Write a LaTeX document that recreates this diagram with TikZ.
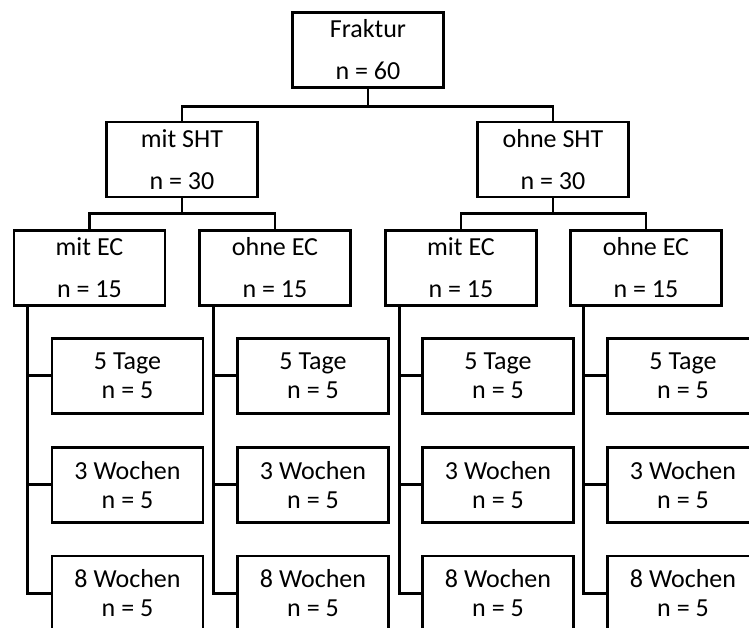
\documentclass[tikz,border=0pt]{standalone}
\usepackage{fontspec}
\setmainfont{Carlito}
\usetikzlibrary{positioning}

\begin{document}
\begin{tikzpicture}
[x=1pt,y=-1pt,line width=2.8pt,
 box/.style={draw,rectangle,align=center,inner sep=0pt,minimum width=151pt,minimum height=75pt,font=\fontsize{26}{42}\selectfont},
 leaf/.style={box,font=\fontsize{26}{29}\selectfont}]
\useasboundingbox (0,0) rectangle (749,628);
\clip (0,0) rectangle (749,628);

% nodes 1
\node [box] (F) at (368,50) {Fraktur\\n = 60};

% nodes 2
\node [box] (S1) at (182,159.5) {mit SHT\\n = 30};
\node [box] (S2) at (553,159.5) {ohne SHT\\n = 30};

% nodes 3
\node [box] (E1) at (89.5,268) {mit EC\\n = 15};
\node [box] (E2) at (275,268) {ohne EC\\n = 15};
\node [box] (E3) at (461,268) {mit EC\\n = 15};
\node [box] (E4) at (646,268) {ohne EC\\n = 15};

% nodes 4
\node [leaf, below right=30pt and 38pt of E1.south west] (T1) {5 Tage\\n = 5};
\node [leaf, below=31pt of T1] (W1) {3 Wochen\\n = 5};
\node [leaf, below=31pt of W1] (V1) {8 Wochen\\n = 5};

\node [leaf, below right=30pt and 38pt of E2.south west] (T2) {5 Tage\\n = 5};
\node [leaf, below=31pt of T2] (W2) {3 Wochen\\n = 5};
\node [leaf, below=31pt of W2] (V2) {8 Wochen\\n = 5};

\node [leaf, below right=30pt and 37pt of E3.south west] (T3) {5 Tage\\n = 5};
\node [leaf, below=31pt of T3] (W3) {3 Wochen\\n = 5};
\node [leaf, below=31pt of W3] (V3) {8 Wochen\\n = 5};

\node [leaf, below right=30pt and 37pt of E4.south west] (T4) {5 Tage\\n = 5};
\node [leaf, below=31pt of T4] (W4) {3 Wochen\\n = 5};
\node [leaf, below=31pt of W4] (V4) {8 Wochen\\n = 5};

% arrows 1
\coordinate [below=18pt of F.south] (j1);
\draw (F) -- (j1);
\draw (S1.north) |- (j1) -| (S2.north);

% arrows 2
\coordinate [below=15pt of S1.south] (j2);
\coordinate [below=15pt of S2.south] (j3);
\draw (S1) -- (j2);
\draw (E1.north) |- (j2) -| (E2.north);
\draw (S2) -- (j3);
\draw (E3.north) |- (j3) -| (E4.north);

% arrows 3
\coordinate [right=15pt of E1.south west] (c1);
\coordinate [right=15pt of E2.south west] (c2);
\coordinate [right=15pt of E3.south west] (c3);
\coordinate [right=14pt of E4.south west] (c4);
\draw (c1) |- (V1.west);
\draw (c1) |- (W1.west);
\draw (c1) |- (T1.west);
\draw (c2) |- (V2.west);
\draw (c2) |- (W2.west);
\draw (c2) |- (T2.west);
\draw (c3) |- (V3.west);
\draw (c3) |- (W3.west);
\draw (c3) |- (T3.west);
\draw (c4) |- (V4.west);
\draw (c4) |- (W4.west);
\draw (c4) |- (T4.west);

\end{tikzpicture}
\end{document}
